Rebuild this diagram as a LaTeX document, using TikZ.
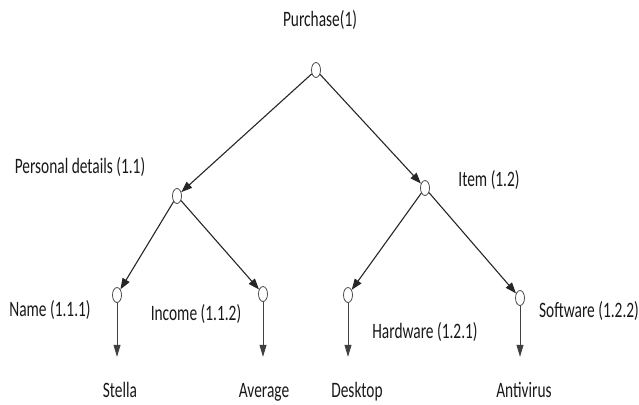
\documentclass[tikz,border=0pt]{standalone}
\usepackage{fontspec}
\newfontfamily\lblfont[FakeStretch=0.7]{Carlito}
\usetikzlibrary{shapes.geometric, arrows.meta}

\begin{document}
\begin{tikzpicture}[
      x=1pt, y=-1pt,
      dot/.style={ellipse, draw=black!70, line width=0.8pt, minimum width=9pt, minimum height=15pt, inner sep=0pt, fill=white},
      lbl/.style={inner sep=0pt, font=\lblfont\fontsize{22}{24}\selectfont, text=black!90},
      leaf/.style={lbl, anchor=base, text height=15pt, text depth=4pt},
      arrow/.style={-{Triangle[length=11pt, width=8pt]}, line width=1.1pt, draw=black!85},
      down/.style={-{Triangle[length=12pt, width=7pt]}, line width=0.8pt, draw=black!75, shorten >=25pt}
    ]
    \useasboundingbox (0,0) rectangle (639,404);

    % tree nodes
    \node[dot] (root) at (316,70) {};
    \node[dot] (pd) at (177,196) {};
    \node[dot] (item) at (425,188) {};
    \node[dot] (name) at (117,295) {};
    \node[dot] (income) at (263,294) {};
    \node[dot] (hw) at (348,295) {};
    \node[dot] (sw) at (520,298) {};

    % labels
    \node[lbl] (lroot) at (320,20) {Purchase(1)};
    \node[lbl] (lpd) at (80,167) {Personal details (1.1)};
    \node[lbl] (litem) at (489,180) {Item (1.2)};
    \node[lbl] (lname) at (50,310) {Name (1.1.1)};
    \node[lbl] (lincome) at (196,314) {Income (1.1.2)};
    \node[lbl] (lhw) at (425,332) {Hardware (1.2.1)};
    \node[lbl] (lsw) at (589,311) {Software (1.2.2)};

    % values
    \node[leaf] (stella) at (120,397) {Stella};
    \node[leaf] (average) at (264,397) {Average};
    \node[leaf] (desktop) at (357,397) {Desktop};
    \node[leaf] (antivirus) at (524,397) {Antivirus};

    \draw[arrow] (root) -- (pd);
    \draw[arrow] (root) -- (item);
    \draw[arrow] (pd) -- (name);
    \draw[arrow] (pd) -- (income);
    \draw[arrow] (item) -- (hw);
    \draw[arrow] (item) -- (sw);

    \draw[down] (name) -- (name |- stella.north);
    \draw[down] (income) -- (income |- average.north);
    \draw[down] (hw) -- (hw |- desktop.north);
    \draw[down] (sw) -- (sw |- antivirus.north);
\end{tikzpicture}
\end{document}
